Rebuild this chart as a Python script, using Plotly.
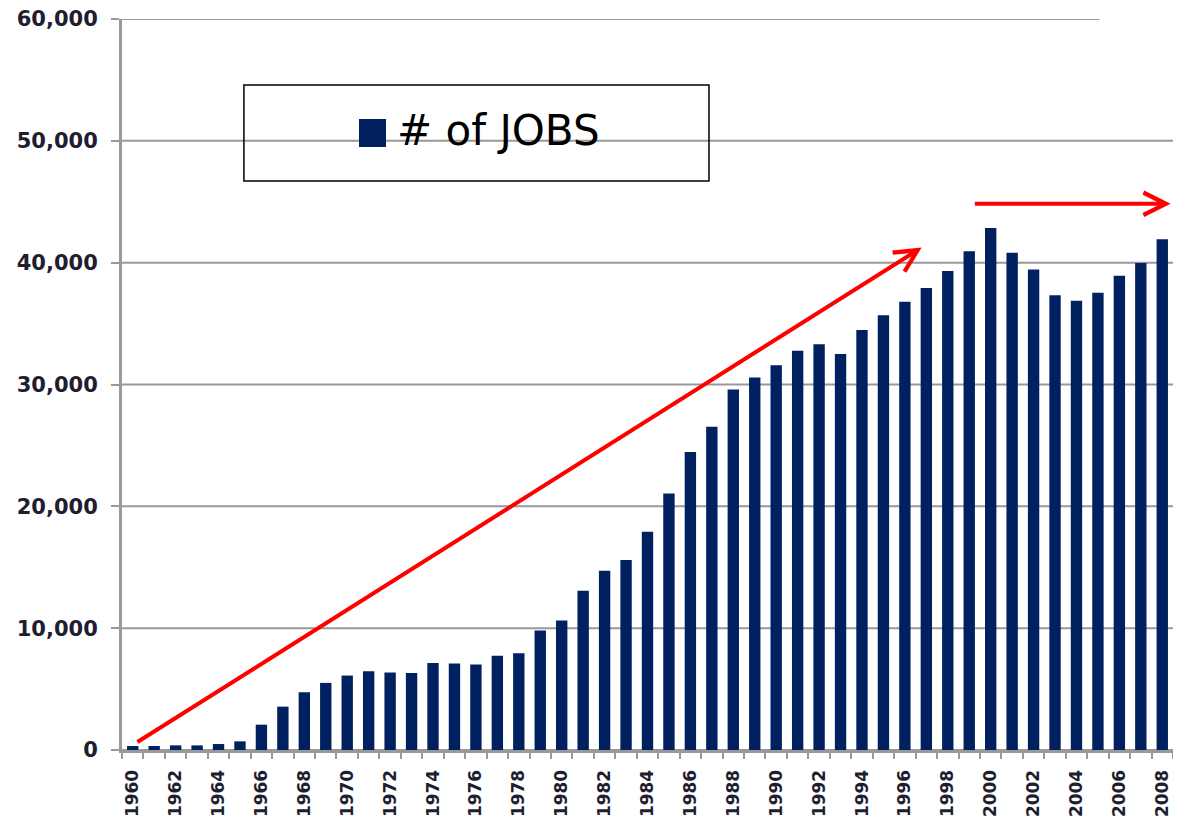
import plotly.graph_objects as go

years = list(range(1960, 2009))
jobs = [330, 330, 380, 380, 490, 710, 2080, 3560, 4740, 5510,
        6110, 6470, 6360, 6330, 7150, 7100, 7010, 7730, 7950, 9800,
        10630, 13080, 14720, 15590, 17910, 21050, 24460, 26530, 29590, 30570,
        31580, 32780, 33300, 32510, 34480, 35680, 36800, 37920, 39320, 40930,
        42850, 40820, 39430, 37320, 36880, 37540, 38930, 39970, 41920]

y_ticks = [0, 10000, 20000, 30000, 40000, 50000, 60000]
x_label_years = list(range(1960, 2009, 2))
series_name = "# of JOBS"

# red trend arrows: (tail_x, tail_y, tip_x, tip_y) in data units
arrow_tail_x = [1960.15, 1999.19]
arrow_tail_y = [575, 44830]
arrow_tip_x = [1996.78, 2008.39]
arrow_tip_y = [41240, 44830]

NAVY = "#002060"
GRAY = "#999999"
TXT = "#1e1e30"

fig = go.Figure()
fig.add_trace(go.Bar(x=years, y=jobs, width=0.53, name=series_name,
                     marker=dict(color=NAVY, line=dict(width=0)), showlegend=False))

shapes = []
for v in y_ticks:
    shapes.append(dict(type="line", xref="paper", yref="y", x0=0, x1=(0.93 if v == 60000 else 1),
                       y0=v, y1=v, line=dict(color=GRAY, width=2), layer="below"))
# legend box and key
shapes.append(dict(type="rect", xref="paper", yref="paper", x0=0.116, x1=0.5585, y0=0.7784, y1=0.9097,
                   line=dict(color="black", width=1.5), fillcolor="rgba(0,0,0,0)"))
shapes.append(dict(type="rect", xref="paper", yref="paper", x0=0.2255, x1=0.2512, y0=0.8249, y1=0.8632,
                   line=dict(width=0), fillcolor=NAVY, layer="above"))

annotations = [dict(x=0.2600, y=0.8480, xref="paper", yref="paper", xanchor="left", yanchor="middle",
                    text=series_name, showarrow=False,
                    font=dict(family="DejaVu Sans", size=42, color="black"))]
for tx, ty, hx, hy in zip(arrow_tail_x, arrow_tail_y, arrow_tip_x, arrow_tip_y):
    annotations.append(dict(x=hx, y=hy, ax=tx, ay=ty, xref="x", yref="y", axref="x", ayref="y",
                            text="", showarrow=True, arrowhead=5, arrowsize=1.1, arrowwidth=4,
                            arrowcolor="#ff0000", standoff=0, startstandoff=0))

fig.update_layout(
    width=1165, height=810,
    margin=dict(l=114, r=0, t=11, b=68, autoexpand=False),
    paper_bgcolor="white", plot_bgcolor="white",
    shapes=shapes, annotations=annotations,
    showlegend=False,
    xaxis=dict(range=[1959.5, 2008.5], tickmode="array", tickvals=x_label_years,
               ticktext=[str(y) for y in x_label_years], tickangle=-90, automargin=False,
               ticks="", showgrid=False, zeroline=False, ticklabelstandoff=10,
               ticklabeloverflow="allow",
               showline=True, linecolor=GRAY, linewidth=3,
               tickfont=dict(family="DejaVu Sans", size=17, color=TXT, weight="bold"),
               minor=dict(ticks="outside", tick0=1959.5, dtick=1, ticklen=6, tickwidth=2,
                          tickcolor=GRAY, showgrid=False)),
    yaxis=dict(range=[0, 60000], tickmode="array", tickvals=y_ticks, tickformat=",",
               automargin=False, ticklabeloverflow="allow",
               showgrid=False, zeroline=False, showline=True, linecolor=GRAY, linewidth=3,
               ticks="outside", ticklen=8, tickwidth=2, tickcolor=GRAY, ticklabelstandoff=9,
               tickfont=dict(family="DejaVu Sans", size=21, color=TXT, weight="bold")),
)

fig.write_html("out.html")
